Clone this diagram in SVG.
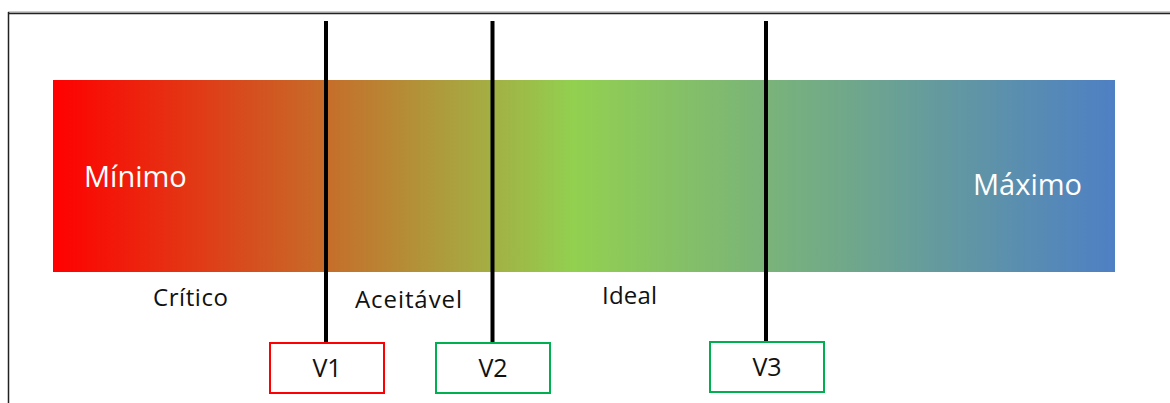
<svg xmlns="http://www.w3.org/2000/svg" width="1170" height="403" viewBox="0 0 1170 403">
<defs>
<linearGradient id="grad" x1="0" y1="0" x2="1" y2="0">
<stop offset="0" stop-color="#FF0000"/>
<stop offset="0.49" stop-color="#92D050"/>
<stop offset="1" stop-color="#4E80C4"/>
</linearGradient>
</defs>
<style>
.lbl{font-family:"Open Sans","Liberation Sans",sans-serif;fill:#111;}
.big{font-family:"Open Sans","Liberation Sans",sans-serif;fill:#fff;font-size:29px;}
.box{fill:#fff;stroke-width:2;}
.vline{stroke:#000;stroke-width:4;}
</style>
<rect width="1170" height="403" fill="#fff"/>
<g id="frame">
<line x1="8" y1="12" x2="1170" y2="12" stroke="#999" stroke-width="1"/>
<line x1="8" y1="13.5" x2="1170" y2="13.5" stroke="#222" stroke-width="1.5"/>
<line x1="8.5" y1="12" x2="8.5" y2="403" stroke="#222" stroke-width="1.5"/>
</g>
<g id="bar">
<rect x="53" y="80" width="1062" height="192" fill="url(#grad)"/>
<text class="big" x="84" y="187">Mínimo</text>
<text class="big" x="973" y="195">Máximo</text>
</g>
<g id="zones">
<text class="lbl" x="153" y="306" font-size="24" textLength="75">Crítico</text>
<text class="lbl" x="355" y="308" font-size="24" textLength="107">Aceitável</text>
<text class="lbl" x="602" y="304" font-size="24" textLength="55">Ideal</text>
</g>
<g id="connectors">
<line class="vline" x1="326" y1="21" x2="326" y2="342"/>
<line class="vline" x1="492.5" y1="21" x2="492.5" y2="342"/>
<line class="vline" x1="766" y1="21" x2="766" y2="341"/>
</g>
<g id="v1">
<rect class="box" x="270" y="343" width="114" height="50" stroke="#FF0000"/>
<text class="lbl" x="327" y="377" font-size="25" text-anchor="middle">V1</text>
</g>
<g id="v2">
<rect class="box" x="436" y="343" width="114" height="50" stroke="#00B050"/>
<text class="lbl" x="493" y="377" font-size="25" text-anchor="middle">V2</text>
</g>
<g id="v3">
<rect class="box" x="710" y="342" width="114" height="50" stroke="#00B050"/>
<text class="lbl" x="767" y="376" font-size="25" text-anchor="middle">V3</text>
</g>
</svg>
